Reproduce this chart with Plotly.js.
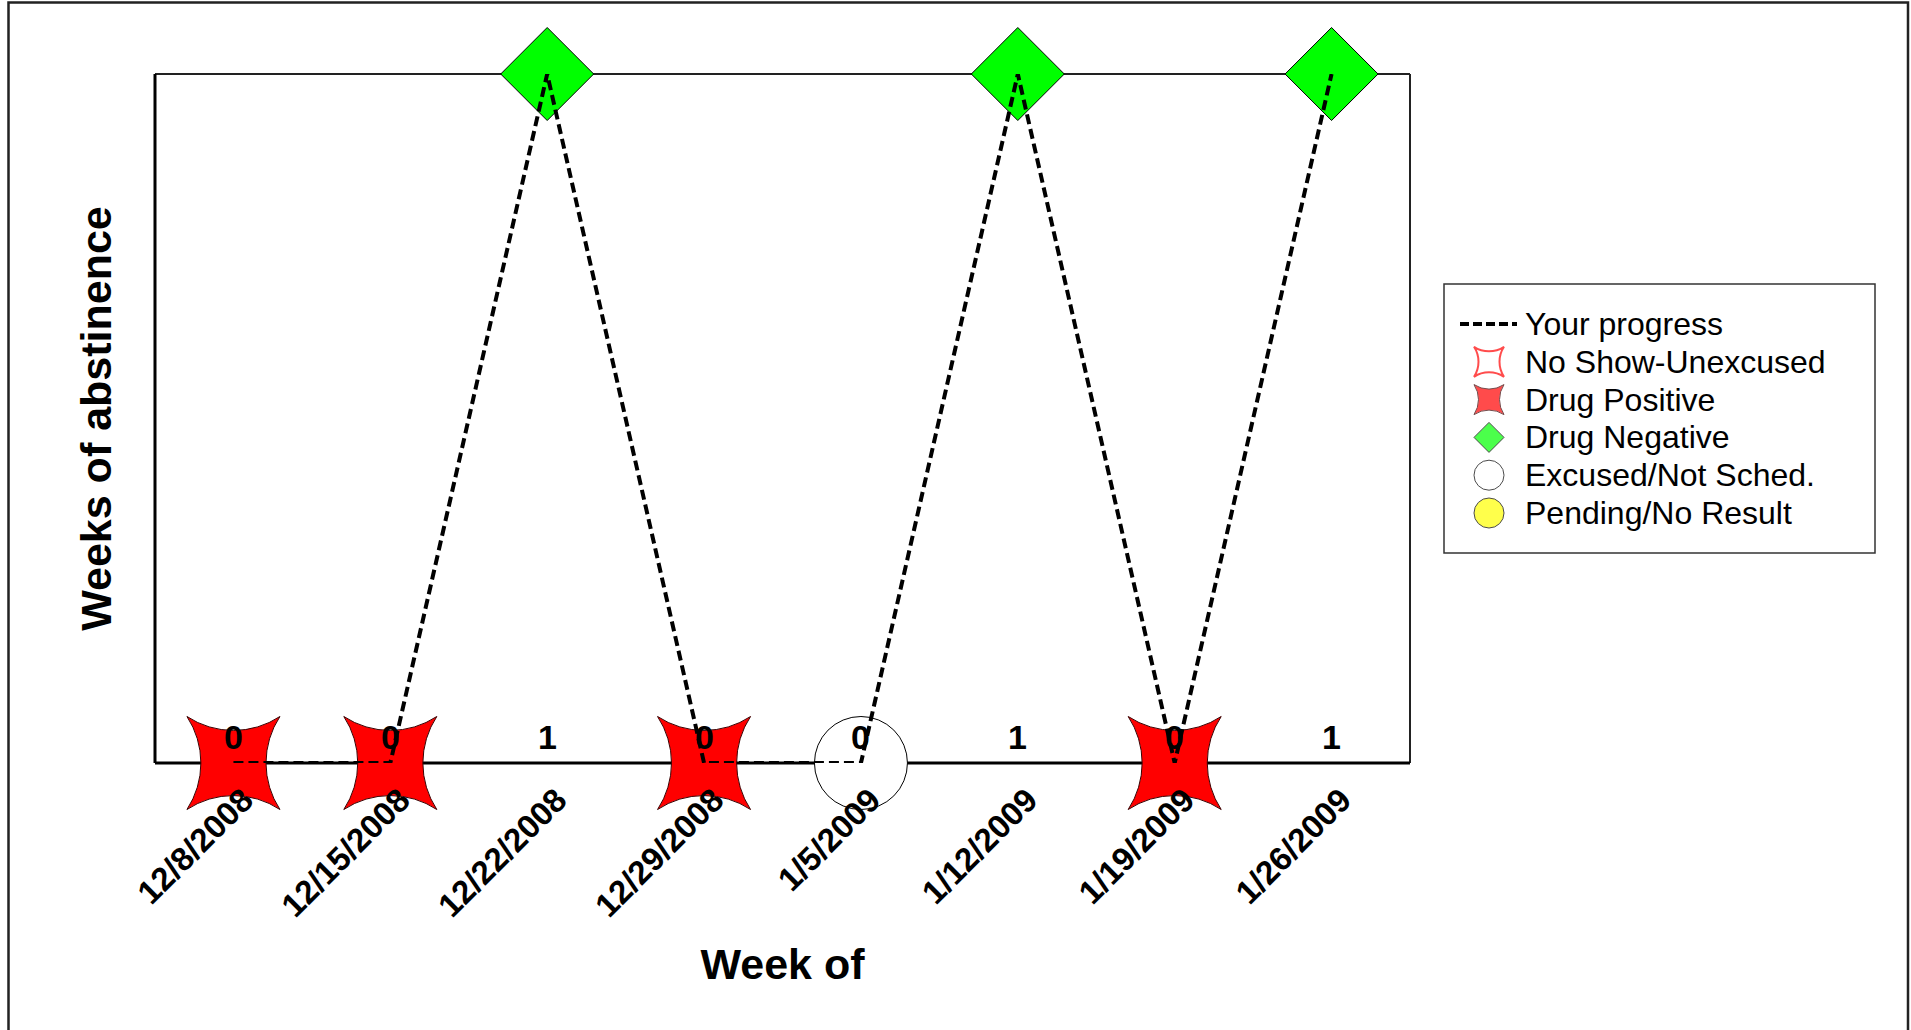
<!DOCTYPE html>
<html>
<head>
<meta charset="utf-8">
<script src="https://cdn.plot.ly/plotly-3.0.1.min.js"></script>
<style>html,body{margin:0;padding:0;background:#fff;}#chart{width:1911px;height:1030px;}</style>
</head>
<body>
<div id="chart"></div>
<script>
// ---- data ----
const weeks = ['12/8/2008','12/15/2008','12/22/2008','12/29/2008','1/5/2009','1/12/2009','1/19/2009','1/26/2009'];
const abstinence = [0, 0, 1, 0, 0, 1, 0, 1];
const status = ['Drug Positive','Drug Positive','Drug Negative','Drug Positive','Excused/Not Sched.','Drug Negative','Drug Positive','Drug Negative'];
const progressName = 'Your progress';
const statusNames = ['No Show-Unexcused','Drug Positive','Drug Negative','Excused/Not Sched.','Pending/No Result'];

// ---- styles ----
const FONT = 'Liberation Sans, Arial, Helvetica, sans-serif';
const statusStyle = {
  'No Show-Unexcused': {symbol:'star-square-open', color:'#ff0000', line:'#ff0000', lw:2, scale:1.1},
  'Drug Positive': {symbol:'star-square', color:'#ff0000', line:'#3a0000', lw:1, scale:1.1},
  'Drug Negative': {symbol:'diamond', color:'#00ff00', line:'#000000', lw:1, scale:1.3},
  'Excused/Not Sched.': {symbol:'circle', color:'#ffffff', line:'#000000', lw:1, scale:1.0},
  'Pending/No Result': {symbol:'circle', color:'#ffff00', line:'#000000', lw:1, scale:1.0}
};
const plotExtent = 93;    // px visual extent of markers in plot
const legendExtent = 30;  // px visual extent of legend symbols

// layout geometry (px)
const W = 1911, H = 1030;
const M = {l:155, r:20, t:74, b:267};
const PW = W - M.l - M.r, PH = H - M.t - M.b;
const plotRight = 1410;
const leg = {x0:1444, x1:1875, y0:284, y1:553, first:324, step:37.8, symX:1489, textX:1523, lineX0:1460, lineX1:1517};
const px2paperX = p => (p - M.l) / PW;
const px2paperY = p => (M.t + PH - p) / PH;

const traces = [];
// status markers
statusNames.forEach(name => {
  const idx = status.map((s, i) => s === name ? i : -1).filter(i => i >= 0);
  if (!idx.length) return;
  const st = statusStyle[name];
  traces.push({
    type:'scatter', mode:'markers', name:name, showlegend:false, cliponaxis:false,
    x: idx.map(i => weeks[i]), y: idx.map(i => abstinence[i]),
    marker:{symbol:st.symbol, size:plotExtent / st.scale, color:st.color, line:{color:st.line, width:st.lw}},
    hoverinfo:'x+name', xaxis:'x', yaxis:'y'
  });
});
// progress line (on top)
traces.push({
  type:'scatter', mode:'lines', name:progressName, showlegend:false,
  x: weeks, y: abstinence,
  line:{color:'#000000', width:4, dash:'10px,5px'},
  xaxis:'x', yaxis:'y'
});
// legend: line sample
traces.push({
  type:'scatter', mode:'lines', showlegend:false, hoverinfo:'skip',
  x:[leg.lineX0, leg.lineX1], y:[leg.first, leg.first],
  line:{color:'#000000', width:4, dash:'9px,4px'},
  xaxis:'x2', yaxis:'y2'
});
// legend: symbols
traces.push({
  type:'scatter', mode:'markers', showlegend:false, hoverinfo:'skip', cliponaxis:false,
  x: statusNames.map(() => leg.symX),
  y: statusNames.map((n, i) => leg.first + (i + 1) * leg.step),
  marker:{
    symbol: statusNames.map(n => statusStyle[n].symbol),
    size: statusNames.map(n => legendExtent / statusStyle[n].scale),
    color: statusNames.map(n => statusStyle[n].color),
    line:{color: statusNames.map(n => statusStyle[n].line), width: statusNames.map(n => statusStyle[n].lw)}
  },
  xaxis:'x2', yaxis:'y2'
});

const annotations = [];
weeks.forEach((w, i) => {
  annotations.push({x:w, y:0, xref:'x', yref:'y', text:String(abstinence[i]), showarrow:false,
    yanchor:'middle', yshift:26, font:{family:FONT, size:34, color:'#000', weight:'bold'}});
});
[progressName].concat(statusNames).forEach((t, i) => {
  annotations.push({x:leg.textX, y:leg.first + i * leg.step, xref:'x2', yref:'y2', text:t, showarrow:false,
    xanchor:'left', yanchor:'middle', font:{family:FONT, size:32, color:'#000'}});
});

const shapes = [
  // outer frame
  {type:'rect', xref:'paper', yref:'paper', x0:px2paperX(8.5), x1:px2paperX(1908), y0:px2paperY(1040), y1:px2paperY(2.5),
   line:{color:'#222', width:2.5}, layer:'below'},
  // legend box
  {type:'rect', xref:'paper', yref:'paper', x0:px2paperX(leg.x0), x1:px2paperX(leg.x1), y0:px2paperY(leg.y1), y1:px2paperY(leg.y0),
   line:{color:'#333', width:1.5}, fillcolor:'#ffffff', layer:'below'},
  // plot box top & right (thin)
  {type:'line', xref:'x domain', yref:'y domain', x0:0, x1:1, y0:1, y1:1, line:{color:'#222', width:2}, layer:'below'},
  {type:'line', xref:'x domain', yref:'y domain', x0:1, x1:1, y0:0, y1:1, line:{color:'#222', width:2}, layer:'below'},
  // axis lines (bottom & left, thick, beneath the markers)
  {type:'line', xref:'x domain', yref:'y domain', x0:0, x1:1, y0:0, y1:0, line:{color:'#000', width:3}, layer:'below'},
  {type:'line', xref:'x domain', yref:'y domain', x0:0, x1:0, y0:0, y1:1, line:{color:'#000', width:3}, layer:'below'}
];

const layout = {
  width:W, height:H, margin:M, paper_bgcolor:'#ffffff', plot_bgcolor:'rgba(0,0,0,0)',
  showlegend:false, font:{family:FONT, color:'#000'},
  xaxis:{type:'category', categoryorder:'array', categoryarray:weeks,
    domain:[0, (plotRight - M.l) / PW], range:[-0.5, weeks.length - 0.5],
    showline:false, ticks:'', showgrid:false, zeroline:false, layer:'above traces',
    tickangle:-45, ticklabelshift:10, ticklabelstandoff:10, tickfont:{family:FONT, size:33, color:'#000', weight:'bold'},
    automargin:true,
    title:{text:'Week of', standoff:25, font:{family:FONT, size:43, color:'#000', weight:'bold'}}, fixedrange:true, anchor:'y'},
  yaxis:{range:[0, 1], showline:false, ticks:'', showticklabels:false,
    showgrid:false, zeroline:false, layer:'above traces', automargin:true,
    title:{text:'Weeks of abstinence', standoff:28, font:{family:FONT, size:43, color:'#000', weight:'bold'}}, fixedrange:true, anchor:'x'},
  xaxis2:{domain:[px2paperX(leg.x0), px2paperX(leg.x1)], range:[leg.x0, leg.x1], visible:false, anchor:'y2', fixedrange:true},
  yaxis2:{domain:[0, 1], range:[M.t + PH, M.t], visible:false, anchor:'x2', fixedrange:true},
  annotations:annotations, shapes:shapes
};

Plotly.newPlot('chart', traces, layout, {displayModeBar:false, staticPlot:true});
</script>
</body>
</html>
